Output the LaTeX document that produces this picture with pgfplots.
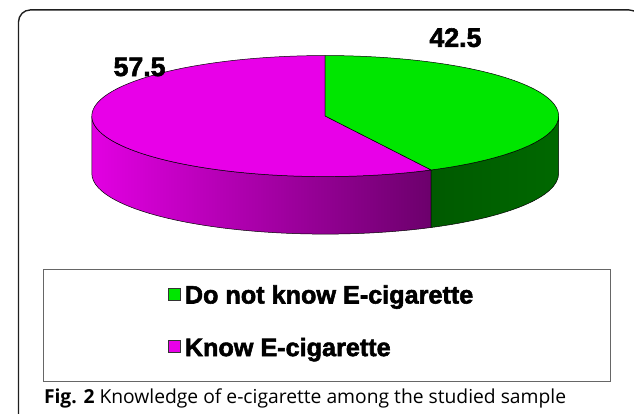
\documentclass[border=0pt]{standalone}
\usepackage{fontspec}
\usepackage{pgfplots}
\usepackage{pgfplotstable}
\pgfplotsset{compat=1.18}
\setmainfont{Open Sans}
\newfontfamily\chartbold{Liberation Sans Bold}[FakeBold=2.2]

\definecolor{topgreen}{HTML}{00E600}
\definecolor{sidegreenA}{HTML}{005A00}
\definecolor{sidegreenB}{HTML}{006800}
\definecolor{toppink}{HTML}{E800E8}
\definecolor{sidepinkA}{HTML}{E200E2}
\definecolor{sidepinkB}{HTML}{C400C4}
\definecolor{sidepinkC}{HTML}{6C006C}

% shares of the sample (percent)
\pgfplotstableread{
share name
42.5 {Do not know E-cigarette}
57.5 {Know E-cigarette}
}\knowdata

\begin{document}
\pgfplotstablegetelem{0}{share}\of\knowdata \let\shareA\pgfplotsretval
\pgfplotstablegetelem{1}{share}\of\knowdata \let\shareB\pgfplotsretval
\pgfmathsetmacro\splitangle{90-3.6*\shareA}
\pgfmathsetmacro\splitwrap{360+\splitangle}
\begin{tikzpicture}
\begin{axis}[
  hide axis, scale only axis,
  width=634bp, height=417bp,
  xmin=0, xmax=634, ymin=0, ymax=417,
  y dir=reverse, clip=false,
  at={(0,0)}, anchor=south west,
  variable=\t, samples=120,
]
% pie geometry: centre (322.7,117), radii 235.3 x 61, depth 58
% front side, pink part
\addplot[draw=black, line width=0.5bp, left color=sidepinkA, middle color=sidepinkB, right color=sidepinkC,
  domain=180:\splitwrap]
  ({322.7+235.3*cos(\t)},{117-61*sin(\t)}) -- ++(0,-58bp)
  arc[start angle=\splitwrap, end angle=180, x radius=235.3bp, y radius=61bp] -- cycle;
% front side, green part
\addplot[draw=black, line width=0.5bp, left color=sidegreenA, right color=sidegreenB,
  domain=\splitwrap:360]
  ({322.7+235.3*cos(\t)},{117-61*sin(\t)}) -- ++(0,-58bp)
  arc[start angle=360, end angle=\splitwrap, x radius=235.3bp, y radius=61bp] -- cycle;
% top faces
\addplot[draw=black, line width=0.5bp, fill=toppink, domain=90:\splitwrap]
  ({322.7+235.3*cos(\t)},{117-61*sin(\t)}) -- (axis cs:322.7,117) -- cycle;
\addplot[draw=black, line width=0.5bp, fill=topgreen, domain=\splitangle:90]
  ({322.7+235.3*cos(\t)},{117-61*sin(\t)}) -- (axis cs:322.7,117) -- cycle;

% value labels
\node[font=\chartbold\fontsize{27}{27}\selectfont, inner sep=0pt] at (axis cs:454,38) {\shareA};
\node[font=\chartbold\fontsize{27}{27}\selectfont, inner sep=0pt] at (axis cs:135.5,67.5) {\shareB};

% legend
\draw[black!60, line width=1.1bp] (axis cs:39,271.5) rectangle (axis cs:610,385);
\draw[black!80, line width=1bp, fill=topgreen] (axis cs:164.5,290.5) rectangle (axis cs:176.5,302.5);
\draw[black!80, line width=1bp, fill=toppink] (axis cs:164.5,343.5) rectangle (axis cs:176.5,355.5);
\node[anchor=base west, inner sep=0pt, font=\chartbold\fontsize{25.5}{25.5}\selectfont]
  at (axis cs:181,306) {Do not know E-cigarette};
\node[anchor=base west, inner sep=0pt, font=\chartbold\fontsize{25.5}{25.5}\selectfont]
  at (axis cs:181,359) {Know E-cigarette};

% caption and frame
\node[anchor=base west, inner sep=0pt, font=\fontsize{19.5}{22}\selectfont]
  at (axis cs:39,407) {\textbf{Fig. 2} Knowledge of e-cigarette among the studied sample};
\draw[black!88, line width=1.4bp, rounded corners=12bp]
  (axis cs:13.5,450) -- (axis cs:13.5,10) -- (axis cs:641,10) -- (axis cs:641,450);
\end{axis}
\pgfresetboundingbox
\useasboundingbox (0,0) rectangle (634bp,417bp);
\end{tikzpicture}
\end{document}
